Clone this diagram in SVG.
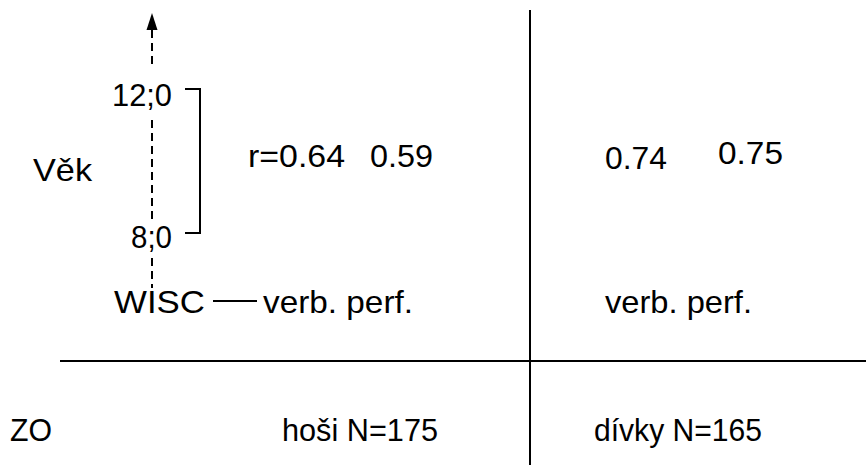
<svg xmlns="http://www.w3.org/2000/svg" width="866" height="465" viewBox="0 0 866 465">
<style>
text{font-family:"Liberation Sans",Arial,sans-serif;font-size:32px;fill:#000}
.ln{stroke:#000;stroke-width:2;fill:none}
.dash{stroke:#000;stroke-width:2;fill:none;stroke-dasharray:8 5}
</style>
<rect width="866" height="465" fill="#fff"/>
<g id="connectors">
<line class="ln" x1="530" y1="10" x2="530" y2="465"/>
<line class="ln" x1="60" y1="361" x2="866" y2="361"/>
<line class="dash" x1="152" y1="30" x2="152" y2="64"/>
<line class="dash" x1="152" y1="120" x2="152" y2="220"/>
<line class="dash" x1="152" y1="258" x2="152" y2="288"/>
<polygon points="152,13 146.5,30 157.5,30" fill="#000"/>
<polyline class="ln" points="185,89 200,89 200,233 185,233"/>
<line class="ln" x1="213" y1="301" x2="257" y2="301"/>
</g>
<g id="vek"><text x="33" y="181" textLength="59" lengthAdjust="spacingAndGlyphs">Věk</text></g>
<g id="age12"><text x="112" y="106" textLength="60" lengthAdjust="spacingAndGlyphs">12;0</text></g>
<g id="age8"><text x="131" y="248" textLength="41" lengthAdjust="spacingAndGlyphs">8;0</text></g>
<g id="r064"><text x="248" y="167" textLength="97" lengthAdjust="spacingAndGlyphs">r=0.64</text></g>
<g id="v059"><text x="370" y="167" textLength="63" lengthAdjust="spacingAndGlyphs">0.59</text></g>
<g id="v074"><text x="605" y="169" textLength="62" lengthAdjust="spacingAndGlyphs">0.74</text></g>
<g id="v075"><text x="718" y="164" textLength="65" lengthAdjust="spacingAndGlyphs">0.75</text></g>
<g id="wisc"><text x="114" y="313" textLength="91" lengthAdjust="spacingAndGlyphs">WISC</text></g>
<g id="vp1"><text x="263" y="313" textLength="150" lengthAdjust="spacingAndGlyphs">verb. perf.</text></g>
<g id="vp2"><text x="605" y="313" textLength="147" lengthAdjust="spacingAndGlyphs">verb. perf.</text></g>
<g id="zo"><text x="10" y="441" textLength="42" lengthAdjust="spacingAndGlyphs">ZO</text></g>
<g id="hosi"><text x="282" y="441" textLength="156" lengthAdjust="spacingAndGlyphs">hoši N=175</text></g>
<g id="divky"><text x="594" y="441" textLength="168" lengthAdjust="spacingAndGlyphs">dívky N=165</text></g>
</svg>
